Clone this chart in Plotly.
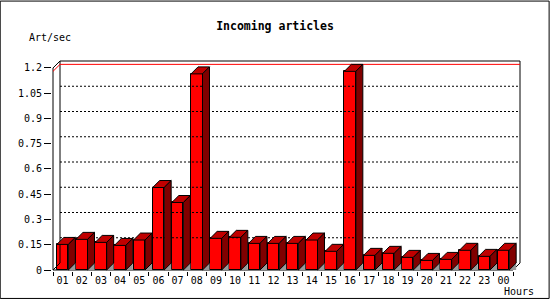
import plotly.graph_objects as go

# ---- data ----
hours = ["01", "02", "03", "04", "05", "06", "07", "08", "09", "10", "11", "12",
         "13", "14", "15", "16", "17", "18", "19", "20", "21", "22", "23", "00"]
art_per_sec = [0.152, 0.182, 0.164, 0.146, 0.178, 0.490, 0.401, 1.165, 0.188, 0.194,
               0.158, 0.158, 0.158, 0.178, 0.111, 1.180, 0.087, 0.099, 0.075, 0.057,
               0.063, 0.117, 0.081, 0.117]
y_tick_vals = [0, 0.15, 0.3, 0.45, 0.6, 0.75, 0.9, 1.05, 1.2]
y_tick_text = ["0", "0.15", "0.3", "0.45", "0.6", "0.75", "0.9", "1.05", "1.2"]
title_text = "Incoming articles"
y_title = "Art/sec"
x_title = "Hours"

# ---- geometry (pixels) ----
W, H = 550, 300
PX_X = 19.17      # px per category slot
PX_Y = 168.7      # px per unit
DEPTH = 7         # 3D depth in px
YMAX = 1.2
n = len(hours)
dxu = DEPTH / PX_X
dyu = DEPTH / PX_Y
pad = 1.0
xr = [-0.5 - pad / PX_X, n - 0.5 + dxu + pad / PX_X]
yr = [0 - pad / PX_Y, YMAX + dyu + pad / PX_Y]
plot_w = (xr[1] - xr[0]) * PX_X
plot_h = (yr[1] - yr[0]) * PX_Y
m_l = 53.3 - pad
m_b = H - 270 - pad
m_r = W - m_l - plot_w
m_t = H - m_b - plot_h

def px2paper_x(px):
    return (px - m_l) / plot_w

def px2paper_y(py):
    return (H - m_b - py) / plot_h

FONT = "DejaVu Sans Mono"
xs = list(range(n))
bw = 0.6
hw = bw / 2

fig = go.Figure()

# back-plane dotted grid
gx, gy = [], []
for v in y_tick_vals[1:-1]:
    gx += [-0.5 + dxu, n - 0.5 + dxu, None]
    gy += [v + dyu, v + dyu, None]
fig.add_trace(go.Scatter(x=gx, y=gy, mode="lines",
                         line=dict(color="black", width=1, dash="2px,2px"),
                         hoverinfo="skip", showlegend=False))

# frame: back plane + front axes + diagonals
fx = [-0.5 + dxu, -0.5 + dxu, n - 0.5 + dxu, n - 0.5 + dxu, None,
      -0.5, -0.5, None,
      -0.5, n - 0.5, None,
      -0.5, -0.5 + dxu, None,
      -0.5, -0.5 + dxu, None,
      n - 0.5, n - 0.5 + dxu]
fy = [dyu, YMAX + dyu, YMAX + dyu, dyu, None,
      0, YMAX, None,
      0, 0, None,
      YMAX, YMAX + dyu, None,
      0, dyu, None,
      0, dyu]
fig.add_trace(go.Scatter(x=fx, y=fy, mode="lines",
                         line=dict(color="black", width=1),
                         hoverinfo="skip", showlegend=False))

# red maximum line
vmax = max(art_per_sec)
fig.add_trace(go.Scatter(x=[-0.5, -0.5 + dxu, n - 0.5 + dxu],
                         y=[vmax, vmax + dyu, vmax + dyu], mode="lines",
                         line=dict(color="#ff0000", width=1),
                         hoverinfo="skip", showlegend=False))

# grey floor triangles
tx, ty = [], []
for c, v in zip(xs, art_per_sec):
    tx += [c + hw, c + hw + dxu, c + hw + dxu, c + hw, None]
    ty += [0, dyu, 0, 0, None]
fig.add_trace(go.Scatter(x=tx, y=ty, mode="lines", fill="toself",
                         fillcolor="#999999", line=dict(width=0, color="#999999"),
                         hoverinfo="skip", showlegend=False))

# front faces
fig.add_trace(go.Bar(x=xs, y=art_per_sec, width=bw,
                     marker=dict(color="#ff0000", line=dict(color="black", width=1)),
                     showlegend=False))

# top faces
px_, py_ = [], []
for c, v in zip(xs, art_per_sec):
    px_ += [c - hw, c - hw + dxu, c + hw + dxu, c + hw, c - hw, None]
    py_ += [v, v + dyu, v + dyu, v, v, None]
fig.add_trace(go.Scatter(x=px_, y=py_, mode="lines", fill="toself",
                         fillcolor="#c00000", line=dict(color="black", width=1),
                         hoverinfo="skip", showlegend=False))

# side faces
sx, sy = [], []
for c, v in zip(xs, art_per_sec):
    sx += [c + hw, c + hw + dxu, c + hw + dxu, c + hw, c + hw, None]
    sy += [v, v + dyu, dyu, 0, v, None]
fig.add_trace(go.Scatter(x=sx, y=sy, mode="lines", fill="toself",
                         fillcolor="#800000", line=dict(color="black", width=1),
                         hoverinfo="skip", showlegend=False))

fig.update_layout(
    width=W, height=H,
    margin=dict(l=m_l, r=m_r, t=m_t, b=m_b, pad=0),
    paper_bgcolor="white", plot_bgcolor="white",
    bargap=0,
    font=dict(family=FONT, size=10, color="black"),
    title=dict(text="<b>" + title_text + "</b>", x=0.5, xref="container", xanchor="center",
               y=1 - 26 / H, yref="container", yanchor="middle",
               font=dict(family=FONT, size=11.5, color="black")),
    xaxis=dict(range=xr, showgrid=False, zeroline=False, showline=False,
               tickmode="array", tickvals=xs, ticktext=hours, ticks="",
               ticklabelstandoff=2,
               tickfont=dict(family=FONT, size=10, color="black"),
               minor=dict(tickmode="linear", tick0=-0.5, dtick=1, ticks="outside",
                          ticklen=4, tickcolor="black", tickwidth=1, showgrid=False)),
    yaxis=dict(range=yr, showgrid=False, zeroline=False, showline=False,
               tickmode="array", tickvals=y_tick_vals, ticktext=y_tick_text,
               ticks="outside", ticklen=7, tickcolor="black", tickwidth=1,
               tickfont=dict(family=FONT, size=10, color="black")),
    annotations=[
        dict(text=y_title, xref="paper", yref="paper", x=px2paper_x(50.5), y=px2paper_y(37),
             xanchor="center", yanchor="middle", showarrow=False,
             font=dict(family=FONT, size=10, color="black")),
        dict(text=x_title, xref="paper", yref="paper", x=px2paper_x(519), y=px2paper_y(292),
             xanchor="center", yanchor="middle", showarrow=False,
             font=dict(family=FONT, size=10, color="black")),
    ],
    shapes=[dict(type="rect", xref="paper", yref="paper",
                 x0=px2paper_x(0.5), x1=px2paper_x(W - 0.5),
                 y0=px2paper_y(H - 1.5), y1=px2paper_y(0.5),
                 line=dict(color="black", width=1), fillcolor="rgba(0,0,0,0)", layer="above")],
)

fig.write_html("out.html")
